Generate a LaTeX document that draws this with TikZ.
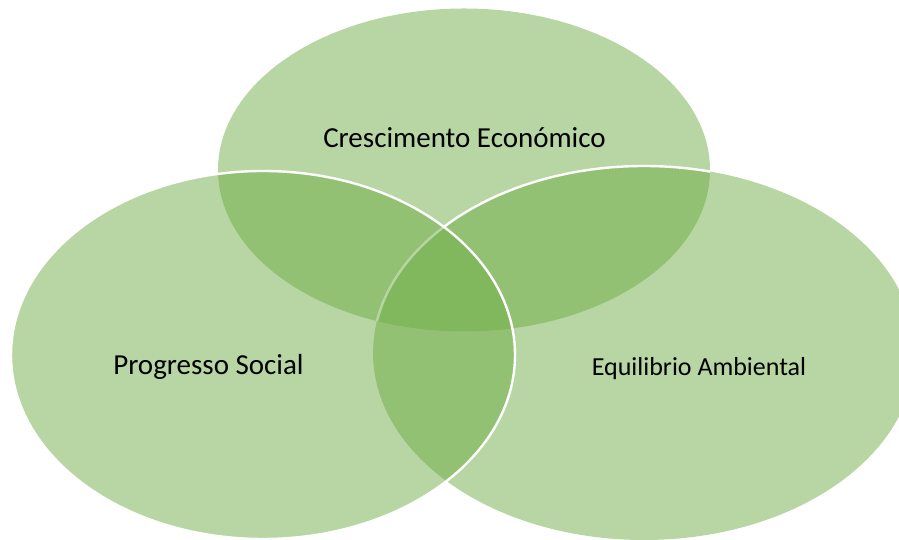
\documentclass[tikz,border=0pt]{standalone}
\usepackage{fontspec}
\setmainfont{Carlito}
\usepackage{tikz}
\definecolor{venngreen}{HTML}{70AD47}

\begin{document}
\begin{tikzpicture}[x=1pt,y=1pt]
		\tikzstyle{venn}=[fill=venngreen,fill opacity=0.5]
		\tikzstyle{rim}=[draw=white,line width=2.4pt]
		\tikzstyle{venn text}=[anchor=base,inner sep=0pt,text=black]
		\useasboundingbox (0,0) rectangle (899,540);
		
		\coordinate (eco) at (464,370);
		\coordinate (soc) at (263,185);
		\coordinate (amb) at (644,187);
		
		% fills, top one first
		\fill[venn] (eco) ellipse [x radius=246,y radius=161.5];
		\fill[venn] (amb) ellipse [x radius=271,y radius=187];
		\begin{scope}
			\clip (eco) ellipse [x radius=246,y radius=161.5];
			\path[rim] (amb) ellipse [x radius=271,y radius=187];
		\end{scope}
		\fill[venn] (soc) ellipse [x radius=252,y radius=184];
		\path[rim] (soc) ellipse [x radius=252,y radius=184];
		
		\node[venn text,font=\fontsize{29}{35}\selectfont] (ce) at (464.5,392) {Crescimento Económico};
		\node[venn text,font=\fontsize{29}{35}\selectfont] (ps) at (208.5,165) {Progresso Social};
		\node[venn text,font=\fontsize{26}{31}\selectfont] (ea) at (699,164) {Equilibrio Ambiental};
\end{tikzpicture}
\end{document}
